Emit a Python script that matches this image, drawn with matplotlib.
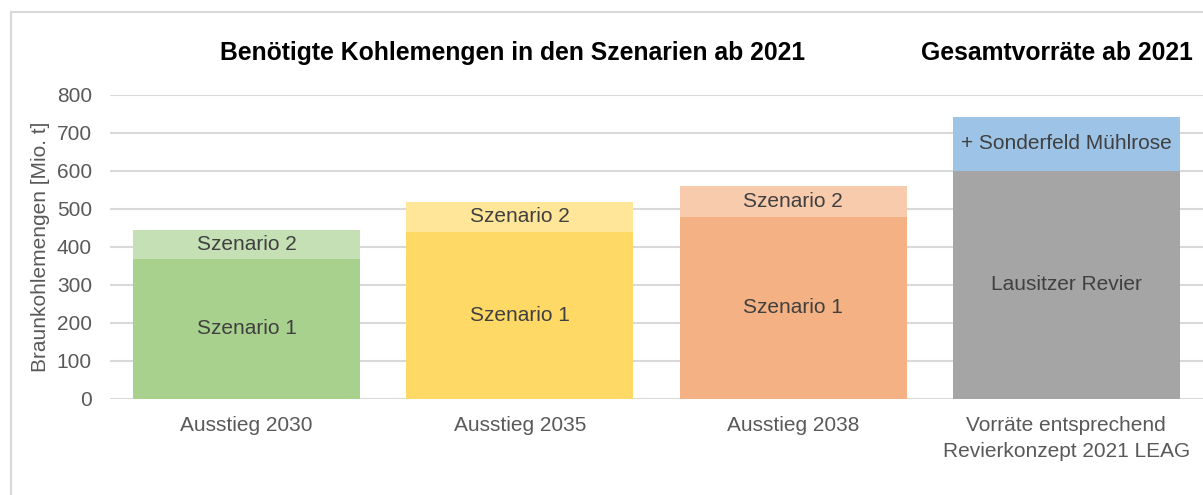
import matplotlib
matplotlib.use("Agg")
import matplotlib.pyplot as plt
from matplotlib.lines import Line2D

plt.rcParams['font.family'] = ['Liberation Sans', 'DejaVu Sans']

categories = ["Ausstieg 2030", "Ausstieg 2035", "Ausstieg 2038",
              "Vorräte entsprechend\nRevierkonzept 2021 LEAG"]
base_values = [368, 440, 479, 600]
top_values = [75, 78, 81, 143]
base_labels = ["Szenario 1", "Szenario 1", "Szenario 1", "Lausitzer Revier"]
top_labels = ["Szenario 2", "Szenario 2", "Szenario 2", "+ Sonderfeld Mühlrose"]
base_colors = ["#A9D18E", "#FFD966", "#F4B183", "#A5A5A5"]
top_colors = ["#C5E0B4", "#FFE699", "#F8CBAD", "#9DC3E6"]
yticks = [0, 100, 200, 300, 400, 500, 600, 700, 800]
title_left = "Benötigte Kohlemengen in den Szenarien ab 2021"
title_right = "Gesamtvorräte ab 2021"
ylabel = "Braunkohlemengen [Mio. t]"

W, H = 1203, 495
fig = plt.figure(figsize=(W / 100, H / 100), dpi=100)
ax = fig.add_axes([110 / W, 1 - 398.5 / H, 1 - 110 / W, (398.5 - 95) / H])

x = list(range(len(categories)))
width = 0.83
ax.bar(x, base_values, width=width, color=base_colors, zorder=2)
ax.bar(x, top_values, width=width, bottom=base_values, color=top_colors, zorder=2)

fs = 15
txtc = "#404040"
for i in x:
    ax.text(i, base_values[i] / 2, base_labels[i], ha="center", va="center",
            fontsize=fs, color=txtc, zorder=3)
    ax.text(i, base_values[i] + top_values[i] / 2, top_labels[i], ha="center",
            va="center", fontsize=fs, color=txtc, zorder=3)

ax.set_xlim(-0.5, 3.5)
ax.set_ylim(0, 800)
ax.set_yticks(yticks)
ax.set_xticks(x)
ax.set_xticklabels(categories, fontsize=fs, color="#595959", linespacing=1.45)
ax.tick_params(axis="y", labelsize=fs, labelcolor="#595959", length=0, pad=13)
ax.tick_params(axis="x", length=0, pad=12.5)
ax.yaxis.grid(True, color="#D9D9D9", linewidth=1.5, zorder=0)
ax.set_axisbelow(True)
for s in ax.spines.values():
    s.set_visible(False)

ax.set_ylabel(ylabel, fontsize=fs, color="#595959")
ax.yaxis.set_label_coords((50 - 110) / (W - 110), 0.5)

fig.text(513 / W, 1 - 53 / H, title_left, ha="center", va="center",
         fontsize=17.8, fontweight="bold", color="black")
fig.text(1057 / W, 1 - 53 / H, title_right, ha="center", va="center",
         fontsize=17.8, fontweight="bold", color="black")

# chart area border
fig.add_artist(Line2D([11 / W, 1.0], [1 - 12 / H, 1 - 12 / H], color="#D9D9D9",
                      linewidth=1.5, transform=fig.transFigure))
fig.add_artist(Line2D([11 / W, 11 / W], [0, 1 - 12 / H], color="#D9D9D9",
                      linewidth=1.5, transform=fig.transFigure))

fig.savefig("out.png", dpi=100, facecolor="white")
